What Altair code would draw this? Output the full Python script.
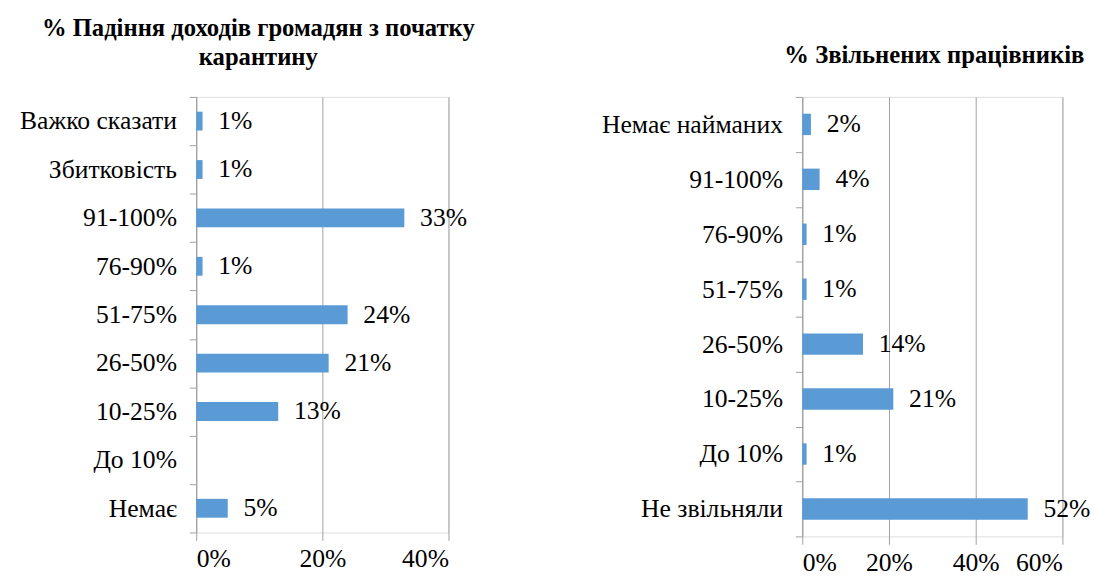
import altair as alt
import pandas as pd

left_cats = ["Важко сказати", "Збитковість", "91-100%", "76-90%", "51-75%",
             "26-50%", "10-25%", "До 10%", "Немає"]
left_vals = [1, 1, 33, 1, 24, 21, 13, 0, 5]
left_ticks = [0, 20, 40]

right_cats = ["Немає найманих", "91-100%", "76-90%", "51-75%", "26-50%",
              "10-25%", "До 10%", "Не звільняли"]
right_vals = [2, 4, 1, 1, 14, 21, 1, 52]
right_ticks = [0, 20, 40, 60]

left_title = ["% Падіння доходів громадян з початку", "карантину"]
right_title = "% Звільнених працівників"

FONT = "Liberation Serif"
BAR = "#5B9BD5"
GRID = "#A0A0A0"
FS = 26


def panel(cats, vals, ticks, width, height, title, title_dx, title_offset):
    df = pd.DataFrame({"cat": cats, "val": vals})
    df["label"] = [f"{v}%" for v in vals]
    y = alt.Y("cat:N", sort=cats, title=None,
              scale=alt.Scale(paddingInner=0, paddingOuter=0),
              axis=alt.Axis(tickBand="extent", domainColor=GRID, tickColor=GRID,
                            tickSize=7, labelPadding=13, labelFont=FONT,
                            labelFontSize=FS, labelColor="black", grid=False,
                            labelLimit=400))
    x = alt.X("val:Q", title=None,
              scale=alt.Scale(domain=[ticks[0], ticks[-1]], nice=False),
              axis=alt.Axis(values=ticks, labelExpr="datum.value + '%'",
                            grid=True, gridColor=GRID, domain=False,
                            tickColor=GRID, tickSize=8, labelFont=FONT,
                            labelFontSize=FS, labelColor="black",
                            labelPadding=6))
    bars = alt.Chart(df).mark_bar(color=BAR, height=alt.RelativeBandSize(0.39)).encode(
        x=x, y=y)
    labels = alt.Chart(df).transform_filter("datum.val > 0").mark_text(
        align="left", baseline="middle", dx=16, font=FONT, fontSize=FS,
        color="black").encode(x=x, y=y, text="label:N")
    return (bars + labels).properties(
        width=width, height=height,
        title=alt.TitleParams(text=title, font=FONT, fontSize=25,
                              fontWeight="bold", color="black",
                              anchor="middle", dx=title_dx,
                              offset=title_offset, lineHeight=30))


left = panel(left_cats, left_vals, left_ticks, 256, 442, left_title, -65, 14)
right = panel(right_cats, right_vals, right_ticks, 264, 446, right_title, 2, 16)

chart = alt.hconcat(left, right, spacing=126).configure_view(
    stroke=None).configure(background="white",
                           padding={"left": 11, "top": 3, "right": 0, "bottom": 0})

chart.save("out.html", embed_options={"renderer": "svg", "actions": False})
